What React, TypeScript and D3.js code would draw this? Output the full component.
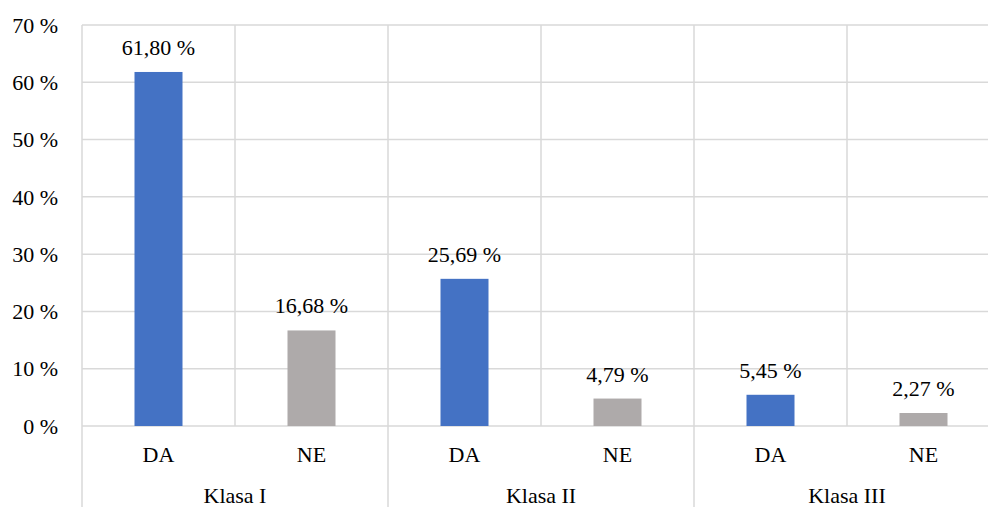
import React from "react";
import * as d3 from "d3";

const groups = ["Klasa I", "Klasa II", "Klasa III"];
const answers = ["DA", "NE"];
const values = [
  [61.8, 16.68],
  [25.69, 4.79],
  [5.45, 2.27],
];
const yTicks = [0, 10, 20, 30, 40, 50, 60, 70];
const colors = { DA: "#4472C4", NE: "#AEAAAA" };

const W = 988;
const H = 507;
const left = 82;
const right = 1000;
const top = 25;
const bottom = 426;
const font = "'Liberation Serif', 'Times New Roman', serif";
const grid = "#D9D9D9";

const fmt = (v: number) => v.toFixed(2).replace(".", ",") + " %";

export default function App() {
  const items = groups.flatMap((g, gi) =>
    answers.map((a, ai) => ({ key: `${g}-${a}`, group: g, answer: a, value: values[gi][ai] }))
  );
  const x = d3.scaleBand<string>().domain(items.map((d) => d.key)).range([left, right]).padding(0);
  const xg = d3.scaleBand<string>().domain(groups).range([left, right]).padding(0);
  const y = d3.scaleLinear().domain([0, 70]).range([bottom, top]);
  const bw = x.bandwidth() * (48 / 153);

  return (
    <div style={{ position: "fixed", left: 0, top: 0 }}>
      <svg width={W} height={H} style={{ display: "block", background: "#fff" }}>
        {yTicks.map((t) => (
          <g key={t}>
            <line x1={left} x2={right} y1={y(t)} y2={y(t)} stroke={grid} strokeWidth={1.5} />
            <text
              x={58}
              y={y(t)}
              dy="0.35em"
              textAnchor="end"
              fontFamily={font}
              fontSize={22}
              fill="#000"
            >
              {`${t} %`}
            </text>
          </g>
        ))}
        {items.map((d, i) => {
          const x0 = x(d.key)!;
          const isGroupEdge = i % 2 === 0;
          return (
            <line
              key={"v" + d.key}
              x1={x0}
              x2={x0}
              y1={top}
              y2={isGroupEdge ? H : bottom}
              stroke={grid}
              strokeWidth={1.5}
            />
          );
        })}
        <line x1={right} x2={right} y1={top} y2={H} stroke={grid} strokeWidth={1.5} />
        {items.map((d) => {
          const cx = x(d.key)! + x.bandwidth() / 2;
          return (
            <g key={d.key}>
              <rect
                x={cx - bw / 2}
                y={y(d.value)}
                width={bw}
                height={y(0) - y(d.value)}
                fill={colors[d.answer as "DA" | "NE"]}
              />
              <text
                x={cx}
                y={y(d.value) - 17}
                textAnchor="middle"
                fontFamily={font}
                fontSize={22}
                fill="#000"
              >
                {fmt(d.value)}
              </text>
              <text x={cx} y={462} textAnchor="middle" fontFamily={font} fontSize={22} fill="#000">
                {d.answer}
              </text>
            </g>
          );
        })}
        {groups.map((g) => (
          <text
            key={g}
            x={xg(g)! + xg.bandwidth() / 2}
            y={503}
            textAnchor="middle"
            fontFamily={font}
            fontSize={22}
            fill="#000"
          >
            {g}
          </text>
        ))}
      </svg>
    </div>
  );
}
